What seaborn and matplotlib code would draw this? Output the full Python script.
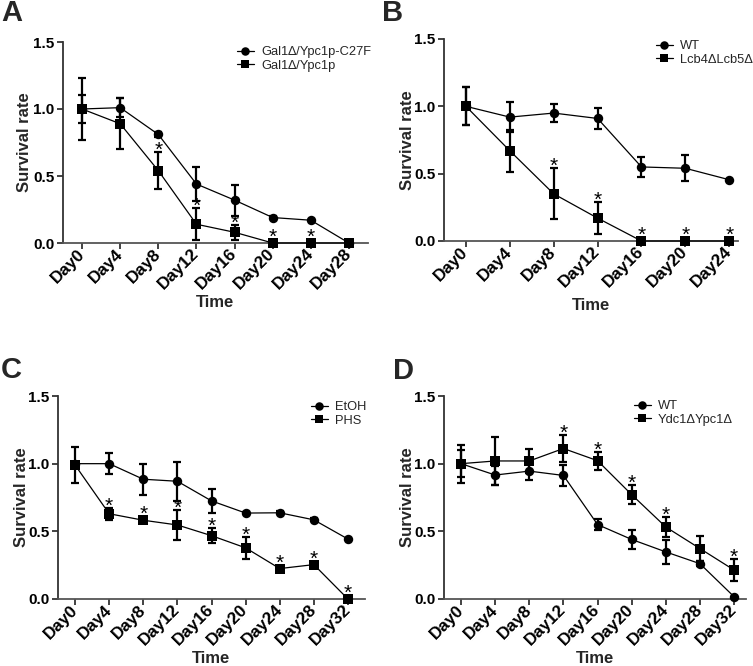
import numpy as np
import pandas as pd
import matplotlib
matplotlib.use("Agg")
import matplotlib.pyplot as plt
import matplotlib.transforms as mtransforms
import seaborn as sns

# ---------------- data ----------------
days_a = ["Day0", "Day4", "Day8", "Day12", "Day16", "Day20", "Day24", "Day28"]
a_labels = ["Gal1\u2206/Ypc1p-C27F", "Gal1\u2206/Ypc1p"]
a_circle = [1.00, 1.01, 0.81, 0.44, 0.32, 0.19, 0.17, 0.00]
a_circle_err = [0.105, 0.07, 0.02, 0.125, 0.115, 0.01, 0.0, 0.0]
a_square = [1.00, 0.89, 0.54, 0.14, 0.08, 0.00, 0.00, 0.00]
a_square_err = [0.235, 0.19, 0.138, 0.12, 0.055, 0.0, 0.0, 0.0]
a_sig = [False, False, True, True, True, True, True, False]

days_b = ["Day0", "Day4", "Day8", "Day12", "Day16", "Day20", "Day24"]
b_labels = ["WT", "Lcb4\u0394Lcb5\u0394"]
b_circle = [1.00, 0.92, 0.95, 0.91, 0.55, 0.54, 0.455]
b_circle_err = [0.14, 0.11, 0.07, 0.08, 0.075, 0.097, 0.0]
b_square = [1.00, 0.67, 0.35, 0.17, 0.00, 0.00, 0.00]
b_square_err = [0.14, 0.155, 0.19, 0.12, 0.0, 0.0, 0.0]
b_sig = [False, False, True, True, True, True, True]

days_c = ["Day0", "Day4", "Day8", "Day12", "Day16", "Day20", "Day24", "Day28", "Day32"]
c_labels = ["EtOH", "PHS"]
c_circle = [1.00, 1.00, 0.885, 0.87, 0.725, 0.635, 0.637, 0.585, 0.443]
c_circle_err = [0.0, 0.08, 0.113, 0.145, 0.09, 0.005, 0.01, 0.01, 0.0]
c_square = [0.99, 0.63, 0.582, 0.547, 0.468, 0.378, 0.225, 0.254, 0.00]
c_square_err = [0.13, 0.046, 0.01, 0.11, 0.055, 0.082, 0.02, 0.01, 0.0]
c_sig = [False, True, True, True, True, True, True, True, True]

days_d = ["Day0", "Day4", "Day8", "Day12", "Day16", "Day20", "Day24", "Day28", "Day32"]
d_labels = ["WT", "Ydc1\u0394Ypc1\u0394"]
d_circle = [1.00, 0.916, 0.945, 0.913, 0.55, 0.44, 0.348, 0.261, 0.017]
d_circle_err = [0.10, 0.07, 0.065, 0.08, 0.04, 0.068, 0.09, 0.02, 0.0]
d_square = [1.00, 1.02, 1.02, 1.112, 1.022, 0.771, 0.532, 0.373, 0.214]
d_square_err = [0.14, 0.18, 0.09, 0.10, 0.067, 0.07, 0.072, 0.09, 0.08]
d_sig = [False, False, False, True, True, True, True, False, True]

# ---------------- style ----------------
sns.set_theme(style="ticks")
plt.rcParams["font.family"] = ["Liberation Sans", "DejaVu Sans"]

W, H = 753, 666
fig = plt.figure(figsize=(W / 100, H / 100), dpi=100)


def px_axes(left, top, right, bottom):
    return fig.add_axes([left / W, 1 - bottom / H, (right - left) / W, (bottom - top) / H])


def panel(ax, days, circ, circ_err, sq, sq_err, labels, sig, xmax, ylab_px, xlab_px, leg_xy):
    n = len(days)
    df = pd.DataFrame({
        "pos": list(range(n)) * 2,
        "Survival rate": circ + sq,
        "group": [labels[0]] * n + [labels[1]] * n,
    })
    sns.lineplot(data=df, x="pos", y="Survival rate", hue="group", style="group",
                 markers=["o", "s"], dashes=False, palette=["black", "black"],
                 markersize=6.8, linewidth=0.9, markeredgewidth=0, sort=False,
                 ax=ax, clip_on=False, zorder=3)
    x = np.arange(n)
    ax.errorbar(x, circ, yerr=circ_err, fmt="none", ecolor="black", elinewidth=1.6,
                capsize=3, capthick=1.6, clip_on=False, zorder=2)
    ax.errorbar(x, sq, yerr=sq_err, fmt="none", ecolor="black", elinewidth=1.6,
                capsize=3, capthick=1.6, clip_on=False, zorder=2)
    for i in range(n):
        if sig[i]:
            top = max(sq[i] + sq_err[i], sq[i] + 0.03)
            ax.annotate("*", xy=(i, top), xytext=(0, -2.8), textcoords="offset points",
                        ha="center", va="baseline", fontsize=15, color="black")
    ax.set_xlim(-0.5, xmax)
    ax.set_ylim(0, 1.5)
    ax.set_yticks([0, 0.5, 1.0, 1.5])
    ax.set_yticklabels(["0.0", "0.5", "1.0", "1.5"], fontsize=11, fontweight="bold")
    ax.set_xticks(x)
    ax.set_xticklabels(days, fontsize=12.3, fontweight="bold", rotation=45,
                       ha="right", va="center", rotation_mode="anchor")
    off = mtransforms.ScaledTranslation(7 / 100, -5 / 100, fig.dpi_scale_trans)
    for lab in ax.get_xticklabels():
        lab.set_transform(lab.get_transform() + off)
    ax.set_xlabel("Time", fontsize=12, fontweight="bold")
    ax.set_ylabel("Survival rate", fontsize=12, fontweight="bold")
    bb = ax.get_position()
    wpx, hpx = bb.width * W, bb.height * H
    ax.yaxis.set_label_coords(-ylab_px / wpx, 0.5)
    ax.xaxis.set_label_coords(0.5, -xlab_px / hpx)
    ax.tick_params(axis="both", direction="out", length=4, width=1.2, colors="#222222",
                   labelcolor="black", pad=2)
    for s in ("top", "right"):
        ax.spines[s].set_visible(False)
    for s in ("left", "bottom"):
        ax.spines[s].set_linewidth(1.3)
        ax.spines[s].set_color("#333333")
    ax.spines["bottom"].set_color("#555555")
    ax.grid(False)
    handles, labs = ax.get_legend_handles_labels()
    if ax.get_legend() is not None:
        ax.get_legend().remove()
    ax.legend(handles, labs, loc="upper left",
              bbox_to_anchor=(leg_xy[0] / W, 1 - leg_xy[1] / H),
              bbox_transform=fig.transFigure, frameon=False, fontsize=9.3,
              handlelength=1.3, handletextpad=0.55, labelspacing=0.12,
              borderpad=0, borderaxespad=0, markerscale=0.9)


axA = px_axes(63, 42, 368, 243)
axB = px_axes(444, 39, 738, 241)
axC = px_axes(58, 396, 365, 599)
axD = px_axes(444, 396, 746, 599)

panel(axA, days_a, a_circle, a_circle_err, a_square, a_square_err, a_labels, a_sig,
      7.5, 31, 52, (237, 46))
panel(axB, days_b, b_circle, b_circle_err, b_square, b_square_err, b_labels, b_sig,
      6.2, 29, 57, (656, 40))
panel(axC, days_c, c_circle, c_circle_err, c_square, c_square_err, c_labels, c_sig,
      8.5, 29, 52, (311, 401))
panel(axD, days_d, d_circle, d_circle_err, d_square, d_square_err, d_labels, d_sig,
      8.35, 29, 52, (634, 400))

for letter, (xp, yp) in {"A": (1, -1), "B": (382, -1), "C": (1, 356), "D": (393, 357)}.items():
    fig.text(xp / W, 1 - yp / H, letter, fontsize=21, fontweight="bold", ha="left", va="top")

fig.savefig("out.png", dpi=100)
